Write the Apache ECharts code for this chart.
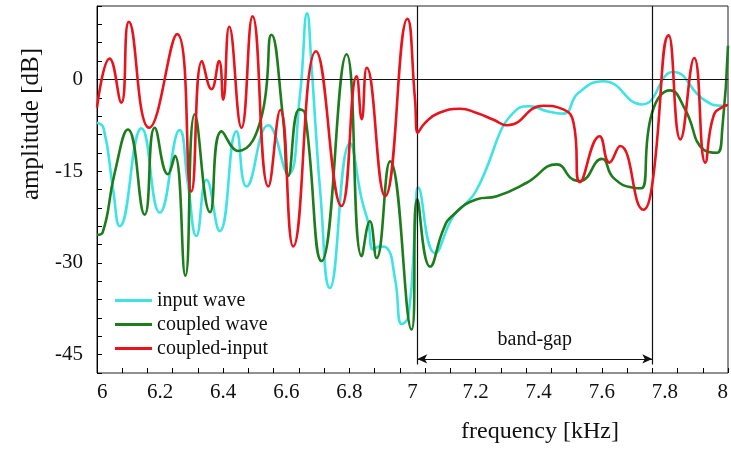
<!DOCTYPE html>
<html>
<head>
<meta charset="utf-8">
<script src="https://cdn.jsdelivr.net/npm/echarts@6/dist/echarts.min.js"></script>
<style>
html,body{margin:0;padding:0;background:#fff;}
#chart{width:731px;height:452px;}
</style>
</head>
<body>
<div id="chart"></div>
<script>
// ---- data ----
const inputF = [6.000,6.021,6.051,6.072,6.141,6.199,6.262,6.288,6.315,6.347,6.389,6.442,6.474,6.543,6.606,6.643,6.666,6.680,6.694,6.707,6.738,6.802,6.839,6.860,6.876,6.897,6.918,6.945,6.966,6.987,7.009,7.018,7.071,7.129,7.177,7.204,7.331,7.373,7.426,7.478,7.526,7.605,7.727,7.827,7.923,7.986,8.000];
const inputV = [-7.1,-8.0,-18.0,-24.0,-8.0,-21.8,-8.3,-17.0,-25.6,-16.4,-24.8,-8.5,-17.5,-7.5,-15.5,-2.7,10.8,2.2,-8.7,-18.0,-34.1,-10.4,-19.6,-23.5,-27.8,-27.3,-27.5,-32.7,-40.0,-38.7,-23.4,-17.7,-28.4,-22.4,-19.9,-18.0,-4.9,-4.4,-5.2,-5.6,-2.2,-0.3,-4.1,1.2,-3.3,-4.3,-4.3];

const coupledF = [6.000,6.018,6.056,6.098,6.151,6.183,6.225,6.247,6.280,6.310,6.358,6.395,6.447,6.522,6.553,6.590,6.606,6.641,6.659,6.712,6.791,6.839,6.865,6.886,6.929,6.997,7.015,7.056,7.098,7.124,7.204,7.267,7.362,7.457,7.510,7.531,7.600,7.637,7.700,7.725,7.759,7.817,7.864,7.923,7.965,7.982,8.000];
const coupledV = [-25.4,-25.0,-15.3,-8.2,-22.1,-7.9,-15.5,-12.5,-32.1,-5.7,-21.7,-8.5,-11.7,-6.0,7.3,-6.5,-15.8,-4.9,-5.5,-29.7,4.1,-28.9,-23.2,-29.2,-13.4,-40.9,-19.6,-30.6,-24.5,-22.4,-19.6,-19.1,-16.9,-13.9,-16.4,-16.6,-13.0,-16.1,-17.7,-17.8,-5.5,-1.8,-4.9,-11.5,-12.0,-8.0,5.5];

const diffF = [6.000,6.040,6.077,6.101,6.165,6.254,6.299,6.333,6.363,6.387,6.400,6.419,6.458,6.493,6.543,6.581,6.622,6.694,6.775,6.823,6.839,6.855,6.913,6.984,7.008,7.017,7.040,7.083,7.151,7.204,7.257,7.299,7.415,7.478,7.510,7.531,7.593,7.624,7.658,7.732,7.759,7.812,7.849,7.893,7.928,7.954,7.986,8.000];
const diffV = [-4.6,3.4,-3.8,9.4,-7.9,7.4,-18.3,3.0,-1.6,3.0,-3.3,8.6,-7.9,10.3,-17.5,-5.0,-27.3,4.6,-20.7,0.5,-6.5,1.9,-19.1,9.9,-3.3,-8.7,-7.1,-5.5,-4.8,-5.5,-6.6,-7.5,-4.3,-4.9,-7.0,-16.8,-9.3,-13.6,-10.9,-21.3,-17.5,7.2,-9.8,3.5,-13.6,-6.0,-4.4,-4.2];

const seriesNames = ['input wave','coupled wave','coupled-input'];
const xTickLabels = [6,6.2,6.4,6.6,6.8,7,7.2,7.4,7.6,7.8,8];
const yTickLabels = [0,-15,-30,-45];
const bandGap = [7.015, 7.76];

// ---- chart ----
const serif = 'Liberation Serif';
const zip = (f, v) => f.map((x, i) => [x, v[i]]);
const chart = echarts.init(document.getElementById('chart'), null, {renderer: 'canvas'});

const mkSeries = (name, f, v, color, z) => ({
  name, type: 'line', data: zip(f, v), symbol: 'none', showSymbol: false,
  smooth: 0.5, z,
  lineStyle: {color, width: 2.6}, itemStyle: {color},
  emphasis: {disabled: true}
});

const option = {
  animation: false,
  backgroundColor: '#fff',
  grid: {left: 97, right: 3, top: 6, bottom: 79, outerBoundsMode: 'none', containLabel: false,
    show: true, borderColor: '#222', borderWidth: 1, backgroundColor: 'transparent'},
  xAxis: [
    {type: 'value', min: 6, max: 8, interval: 0.2,
     axisLine: {lineStyle: {color: '#000', width: 1}},
     axisTick: {show: false}, splitLine: {show: false},
     axisLabel: {color: '#111', fontFamily: serif, fontSize: 21, margin: 9, hideOverlap: false,
       alignMinLabel: 'left', alignMaxLabel: 'right',
       formatter: v => { const r = +v.toFixed(1); return xTickLabels.indexOf(r) >= 0 ? String(r) : ''; }}},
    {type: 'value', min: 6, max: 8, interval: 0.08, position: 'bottom',
     axisLine: {show: false}, axisLabel: {show: false}, splitLine: {show: false},
     axisTick: {show: true, inside: true, length: 5, lineStyle: {color: '#000'}}}
  ],
  yAxis: {type: 'value', min: -48, max: 12, interval: 3,
    axisLine: {show: true, lineStyle: {color: '#000', width: 1}},
    axisTick: {show: true, inside: true, length: 5, lineStyle: {color: '#000'}},
    splitLine: {show: false},
    axisLabel: {color: '#111', fontFamily: serif, fontSize: 21, margin: 14,
      formatter: v => yTickLabels.indexOf(v) >= 0 ? String(v) : ''}},
  legend: {orient: 'vertical', left: 110, top: 285, itemWidth: 37, itemHeight: 3, itemGap: 3,
    icon: 'rect', data: seriesNames, selectedMode: false,
    textStyle: {fontFamily: serif, fontSize: 20, color: '#111', lineHeight: 21}},
  graphic: [
    {type: 'text', left: 461, top: 420, style: {text: 'frequency [kHz]', font: '24px "Liberation Serif"', fill: '#111'}},
    {type: 'text', x: 31, y: 124, rotation: Math.PI / 2,
     style: {text: 'amplitude [dB]', font: '25px "Liberation Serif"', fill: '#111', align: 'center', verticalAlign: 'middle'}}
  ],
  series: [
    mkSeries(seriesNames[0], inputF, inputV, '#3fe3e3', 3),
    mkSeries(seriesNames[1], coupledF, coupledV, '#1d7d1d', 4),
    mkSeries(seriesNames[2], diffF, diffV, '#e8131b', 5),
    {name: 'refs', type: 'line', data: [[6, 0]], symbol: 'none', lineStyle: {opacity: 0}, z: 6,
     markLine: {silent: true, animation: false, symbol: ['none', 'none'],
       lineStyle: {color: '#111', width: 1.2, type: 'solid'},
       label: {show: false},
       emphasis: {disabled: true},
       data: [
         [{coord: [6, 0]}, {coord: [8, 0]}],
         [{coord: [bandGap[0], 12]}, {coord: [bandGap[0], -46.6]}],
         [{coord: [bandGap[1], 12]}, {coord: [bandGap[1], -46.6]}],
         [{coord: [bandGap[0], -45.7], symbol: 'arrow', symbolSize: [7, 10],
           label: {show: true, position: 'middle', formatter: 'band-gap', fontFamily: serif, fontSize: 20, color: '#111', distance: 9}},
          {coord: [bandGap[1], -45.7], symbol: 'arrow', symbolSize: [7, 10]}]
       ]}}
  ]
};
chart.setOption(option);
</script>
</body>
</html>
